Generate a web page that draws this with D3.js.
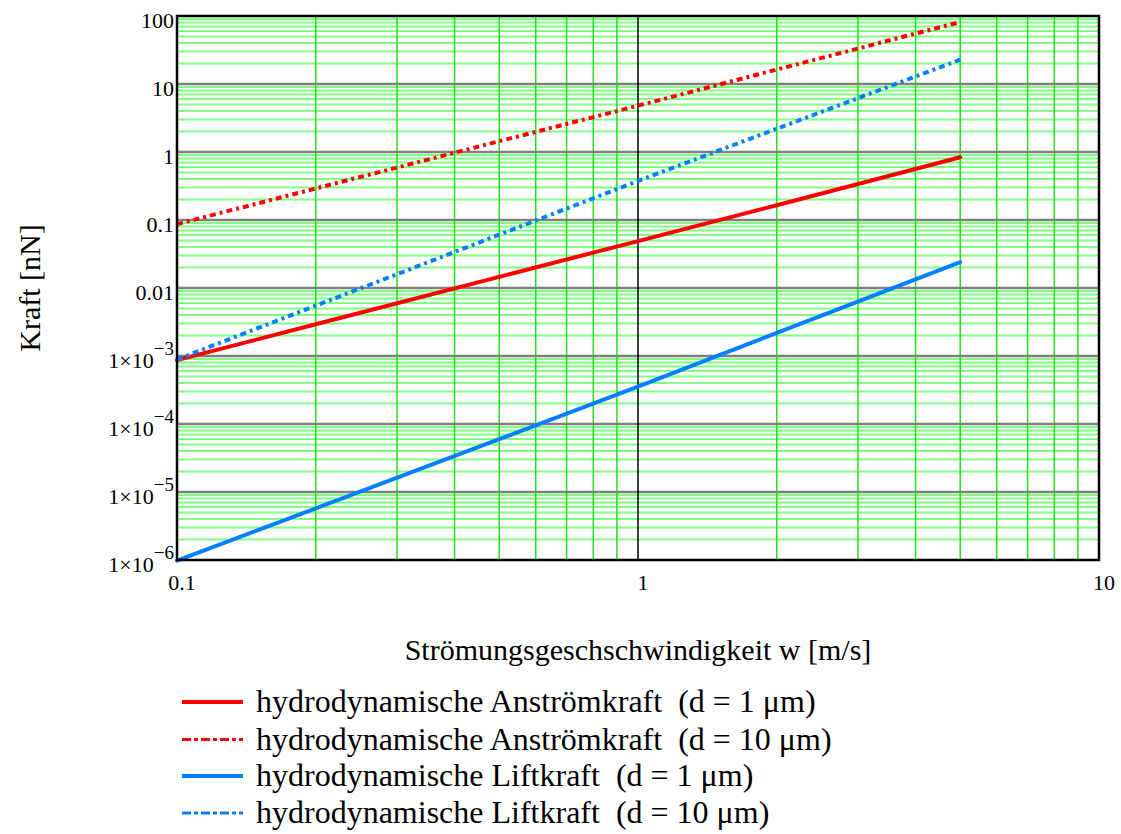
<!DOCTYPE html>
<html><head><meta charset="utf-8">
<script src="https://cdn.jsdelivr.net/npm/d3@7"></script>
<style>body{margin:0;background:#fff}svg{display:block}text{font-family:"Liberation Serif","Times New Roman",serif;fill:#000}</style>
</head><body><svg id="c" width="1121" height="834"></svg>
<script>
// Data
const xValues = [0.1, 0.2, 0.5, 1, 2, 5];
const anstroem1 = [8.7e-4, 2.93e-3, 0.0146, 0.049, 0.165, 0.836];
const anstroem10 = [0.087, 0.291, 1.44, 4.8, 16.3, 81.6];
const lift1 = [0.98e-6, 5.75e-6, 6.0e-5, 3.54e-4, 2.18e-3, 0.0241];
const lift10 = [8.9e-4, 5.5e-3, 0.0608, 0.375, 2.2, 22.8];
const xTicks = [0.1, 1, 10];
const xTickLabels = ["0.1", "1", "10"];
const yTicks = [1e-6, 1e-5, 1e-4, 1e-3, 0.01, 0.1, 1, 10, 100];
const yTickLabels = [["1×10","−6"],["1×10","−5"],["1×10","−4"],["1×10","−3"],["0.01",""],["0.1",""],["1",""],["10",""],["100",""]];
const seriesNames = ["hydrodynamische Anströmkraft  (d = 1 μm)","hydrodynamische Anströmkraft  (d = 10 μm)","hydrodynamische Liftkraft  (d = 1 μm)","hydrodynamische Liftkraft  (d = 10 μm)"];
const seriesColors = ["#ff0000","#ff0000","#0080ff","#0080ff"];
const seriesDashed = [false,true,false,true];
const seriesData = [anstroem1, anstroem10, lift1, lift10];

const svg = d3.select("#c");
const L=177, R=1099, T=16, B=560;
const x = d3.scaleLog().domain([0.1,10]).range([L,R]);
const y = d3.scaleLog().domain([1e-6,100]).range([B,T]);

const g = svg.append("g");
// minor grid
const yMinor=[], xMinor=[];
for(let e=-6;e<2;e++) for(let k=2;k<=9;k++) yMinor.push(k*Math.pow(10,e));
for(let e=-1;e<1;e++) for(let k=2;k<=9;k++) xMinor.push(k*Math.pow(10,e));
g.selectAll(".hm").data(yMinor).enter().append("line")
 .attr("x1",L).attr("x2",R).attr("y1",d=>y(d)).attr("y2",d=>y(d))
 .attr("stroke","#80ff80").attr("stroke-width",2);
g.selectAll(".vm").data(xMinor).enter().append("line")
 .attr("y1",T).attr("y2",B).attr("x1",d=>x(d)).attr("x2",d=>x(d))
 .attr("stroke","#22e022").attr("stroke-width",1.5);
// major grid
g.selectAll(".hM").data(yTicks.slice(1,-1)).enter().append("line")
 .attr("x1",L).attr("x2",R).attr("y1",d=>y(d)).attr("y2",d=>y(d))
 .attr("stroke","#808080").attr("stroke-width",2.5);
g.append("line").attr("x1",x(1)).attr("x2",x(1)).attr("y1",T).attr("y2",B)
 .attr("stroke","#000").attr("stroke-width",1.5);

// series
const line = d3.line().x((d,i)=>x(xValues[i])).y(d=>y(d));
seriesData.forEach((s,i)=>{
  svg.append("path").datum(s).attr("d",line).attr("fill","none")
   .attr("stroke",seriesColors[i])
   .attr("stroke-width",4)
   .attr("stroke-dasharray",seriesDashed[i]?"6,4,3,4":null)
   .attr("stroke-linecap",seriesDashed[i]?"butt":"round");
});

// frame
svg.append("rect").attr("x",L).attr("y",T).attr("width",R-L).attr("height",B-T)
 .attr("fill","none").attr("stroke","#000").attr("stroke-width",2.5);

// y tick labels
yTicks.forEach((v,i)=>{
  const lab=yTickLabels[i];
  const t=svg.append("text").attr("x",174).attr("y",y(v)+12).attr("text-anchor","end")
   .style("font-size","22px");
  t.append("tspan").text(lab[0]);
  if(lab[1]) t.append("tspan").attr("dy",-13).style("font-size","19px").text(lab[1]);
});
// x tick labels
xTicks.forEach((v,i)=>{
  svg.append("text").attr("x",x(v)+5).attr("y",590).attr("text-anchor","middle")
   .style("font-size","22px").text(xTickLabels[i]);
});
// axis titles
svg.append("text").attr("transform","translate(40,288) rotate(-90)").attr("text-anchor","middle")
 .style("font-size","30px").text("Kraft [nN]");
svg.append("text").attr("x",638).attr("y",660).attr("text-anchor","middle")
 .style("font-size","30px").text("Strömungsgeschschwindigkeit w [m/s]");

// legend
const rows=[702,739.5,776,813];
seriesNames.forEach((n,i)=>{
  svg.append("line").attr("x1",182).attr("x2",243).attr("y1",rows[i]).attr("y2",rows[i])
   .attr("stroke",seriesColors[i]).attr("stroke-width",seriesDashed[i]?3:4)
   .attr("stroke-dasharray",seriesDashed[i]?"9,3,4,3":null);
  svg.append("text").attr("x",256).attr("y",rows[i]+10).style("font-size","32px")
   .attr("xml:space","preserve").style("white-space","pre").text(n);
});
</script></body></html>
